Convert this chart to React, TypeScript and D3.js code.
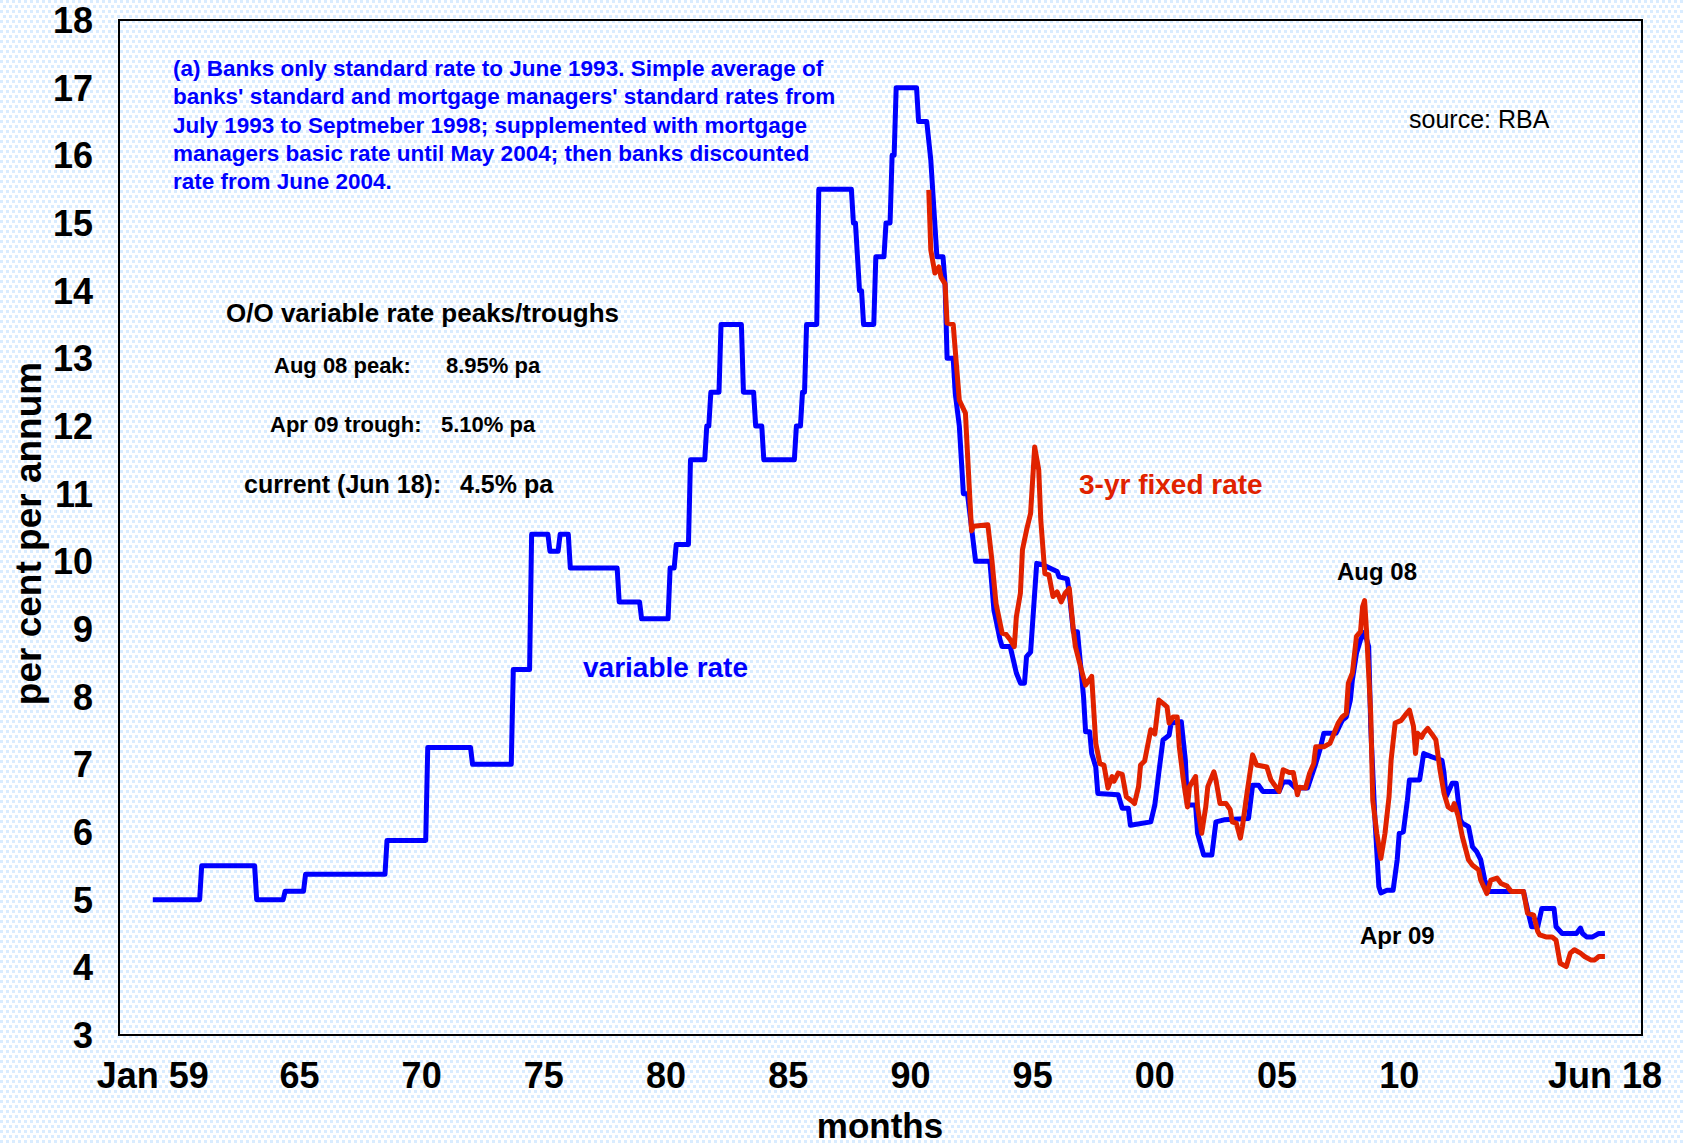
import React from "react";
import * as d3 from "d3";

// ---------- DATA ----------
const variableRate: [string, number][] = [
  ["1959-01", 5.0], ["1960-12", 5.0], ["1961-01", 5.5], ["1963-03", 5.5], ["1963-04", 5.0],
  ["1964-05", 5.0], ["1964-06", 5.125], ["1965-03", 5.125], ["1965-04", 5.375], ["1968-07", 5.375],
  ["1968-08", 5.875], ["1970-03", 5.875], ["1970-04", 7.25], ["1972-01", 7.25], ["1972-02", 7.0],
  ["1973-09", 7.0], ["1973-10", 8.4], ["1974-06", 8.4], ["1974-07", 10.4], ["1975-03", 10.4],
  ["1975-04", 10.15], ["1975-08", 10.15], ["1975-09", 10.4], ["1976-01", 10.4], ["1976-02", 9.9],
  ["1978-01", 9.9], ["1978-02", 9.4], ["1978-12", 9.4], ["1979-01", 9.15], ["1980-02", 9.15],
  ["1980-03", 9.9], ["1980-05", 9.9], ["1980-06", 10.25], ["1980-12", 10.25], ["1981-01", 11.5],
  ["1981-08", 11.5], ["1981-09", 12.0], ["1981-10", 12.0], ["1981-11", 12.5], ["1982-03", 12.5],
  ["1982-04", 13.5], ["1983-02", 13.5], ["1983-03", 12.5], ["1983-08", 12.5], ["1983-09", 12.0],
  ["1983-12", 12.0], ["1984-01", 11.5], ["1985-04", 11.5], ["1985-05", 12.0], ["1985-07", 12.0],
  ["1985-08", 12.5], ["1985-09", 12.5], ["1985-10", 13.5], ["1986-03", 13.5], ["1986-04", 15.5],
  ["1987-08", 15.5], ["1987-09", 15.0], ["1987-10", 15.0], ["1987-12", 14.0], ["1988-01", 14.0],
  ["1988-02", 13.5], ["1988-07", 13.5], ["1988-08", 14.5], ["1988-12", 14.5], ["1989-01", 15.0],
  ["1989-03", 15.0], ["1989-04", 16.0], ["1989-05", 16.0], ["1989-06", 17.0], ["1990-04", 17.0],
  ["1990-05", 16.5], ["1990-09", 16.5], ["1990-11", 15.93], ["1991-02", 14.5], ["1991-05", 14.5],
  ["1991-06", 14.1], ["1991-07", 13.0], ["1991-10", 13.0], ["1991-11", 12.48], ["1992-01", 12.0],
  ["1992-03", 11.0], ["1992-05", 11.0], ["1992-07", 10.5], ["1992-09", 10.0], ["1993-04", 10.0],
  ["1993-06", 9.28], ["1993-09", 8.84], ["1993-10", 8.74], ["1994-02", 8.74], ["1994-05", 8.35],
  ["1994-07", 8.2], ["1994-09", 8.2], ["1994-10", 8.59], ["1994-12", 8.66], ["1995-03", 9.97],
  ["1995-06", 9.95], ["1996-01", 9.85], ["1996-02", 9.77], ["1996-06", 9.74], ["1996-07", 9.53],
  ["1996-09", 8.96], ["1996-11", 8.96], ["1997-02", 8.0], ["1997-03", 7.48], ["1997-05", 7.48],
  ["1997-06", 7.16], ["1997-08", 6.96], ["1997-09", 6.57], ["1998-07", 6.55], ["1998-09", 6.35],
  ["1998-12", 6.35], ["1999-01", 6.1], ["1999-11", 6.15], ["2000-01", 6.4], ["2000-03", 6.89],
  ["2000-05", 7.36], ["2000-08", 7.43], ["2000-09", 7.61], ["2001-02", 7.63], ["2001-04", 7.06],
  ["2001-05", 6.4], ["2001-09", 6.4], ["2001-10", 5.98], ["2002-01", 5.66], ["2002-05", 5.66],
  ["2002-07", 6.15], ["2002-11", 6.18], ["2003-11", 6.2], ["2004-01", 6.69], ["2004-04", 6.69],
  ["2004-06", 6.6], ["2005-02", 6.6], ["2005-04", 6.74], ["2005-07", 6.74], ["2005-10", 6.65],
  ["2006-04", 6.65], ["2006-07", 6.92], ["2006-08", 7.01], ["2006-10", 7.21], ["2006-12", 7.46],
  ["2007-06", 7.46], ["2007-09", 7.65], ["2007-11", 7.7], ["2008-01", 7.95], ["2008-02", 8.25],
  ["2008-04", 8.64], ["2008-06", 8.84], ["2008-08", 8.95], ["2008-10", 8.74], ["2008-11", 7.56],
  ["2009-01", 6.23], ["2009-03", 5.19], ["2009-04", 5.1], ["2009-07", 5.14], ["2009-10", 5.14],
  ["2009-12", 5.59], ["2010-01", 5.98], ["2010-03", 6.0], ["2010-05", 6.47], ["2010-06", 6.77],
  ["2010-11", 6.77], ["2011-01", 7.16], ["2011-05", 7.11], ["2011-10", 7.06], ["2011-11", 6.87],
  ["2011-12", 6.52], ["2012-03", 6.72], ["2012-05", 6.72], ["2012-07", 6.18], ["2012-08", 6.13],
  ["2012-11", 6.08], ["2013-01", 5.78], ["2013-03", 5.71], ["2013-05", 5.59], ["2013-07", 5.29],
  ["2013-09", 5.12], ["2015-02", 5.12], ["2015-04", 4.85], ["2015-06", 4.6], ["2015-09", 4.6],
  ["2015-11", 4.87], ["2016-05", 4.87], ["2016-06", 4.6], ["2016-09", 4.5], ["2017-04", 4.5],
  ["2017-06", 4.58], ["2017-07", 4.5], ["2017-09", 4.45], ["2017-12", 4.45], ["2018-03", 4.5],
  ["2018-06", 4.5],
];

const fixedRate: [string, number][] = [
  ["1990-10", 15.49], ["1990-11", 14.6], ["1991-01", 14.26], ["1991-03", 14.35], ["1991-04", 14.2],
  ["1991-06", 14.1], ["1991-07", 13.52], ["1991-10", 13.5], ["1991-11", 13.12], ["1992-01", 12.38],
  ["1992-04", 12.19], ["1992-05", 11.6], ["1992-07", 10.45], ["1992-08", 10.52], ["1993-03", 10.54],
  ["1993-05", 10.02], ["1993-07", 9.38], ["1993-10", 8.94], ["1993-12", 8.92], ["1994-02", 8.84],
  ["1994-04", 8.74], ["1994-05", 9.18], ["1994-07", 9.53], ["1994-08", 10.17], ["1994-10", 10.46],
  ["1994-12", 10.71], ["1995-02", 11.69], ["1995-04", 11.35], ["1995-05", 10.61], ["1995-07", 9.82],
  ["1995-09", 9.8], ["1995-11", 9.48], ["1996-01", 9.55], ["1996-03", 9.4], ["1996-05", 9.53],
  ["1996-07", 9.6], ["1996-09", 8.98], ["1996-10", 8.74], ["1997-01", 8.39], ["1997-03", 8.17],
  ["1997-06", 8.3], ["1997-08", 7.31], ["1997-10", 7.01], ["1997-12", 6.99], ["1998-02", 6.65],
  ["1998-04", 6.82], ["1998-05", 6.75], ["1998-07", 6.87], ["1998-09", 6.85], ["1998-11", 6.52],
  ["1999-02", 6.45], ["1999-03", 6.42], ["1999-05", 6.67], ["1999-06", 6.99], ["1999-08", 7.05],
  ["1999-11", 7.51], ["2000-01", 7.45], ["2000-03", 7.95], ["2000-05", 7.9], ["2000-07", 7.85],
  ["2000-08", 7.61], ["2000-10", 7.7], ["2000-12", 7.7], ["2001-01", 7.26], ["2001-03", 6.77],
  ["2001-05", 6.37], ["2001-06", 6.67], ["2001-09", 6.82], ["2001-10", 6.37], ["2001-12", 5.98],
  ["2002-02", 6.37], ["2002-03", 6.67], ["2002-06", 6.89], ["2002-07", 6.77], ["2002-09", 6.42],
  ["2002-12", 6.42], ["2003-02", 6.33], ["2003-03", 6.15], ["2003-05", 6.13], ["2003-07", 5.91],
  ["2003-08", 6.08], ["2003-10", 6.52], ["2004-01", 7.14], ["2004-03", 6.99], ["2004-08", 6.96],
  ["2004-10", 6.77], ["2005-02", 6.6], ["2005-04", 6.92], ["2005-07", 6.88], ["2005-09", 6.88],
  ["2005-11", 6.55], ["2005-12", 6.66], ["2006-03", 6.65], ["2006-05", 6.87], ["2006-07", 7.01],
  ["2006-08", 7.26], ["2006-12", 7.26], ["2007-03", 7.31], ["2007-05", 7.46], ["2007-07", 7.61],
  ["2007-09", 7.7], ["2007-11", 7.75], ["2007-12", 8.2], ["2008-02", 8.35], ["2008-04", 8.89],
  ["2008-06", 8.96], ["2008-07", 9.33], ["2008-08", 9.42], ["2008-09", 8.94], ["2008-11", 7.75],
  ["2008-12", 6.47], ["2009-02", 5.98], ["2009-04", 5.61], ["2009-06", 5.98], ["2009-08", 6.52],
  ["2009-09", 7.06], ["2009-11", 7.61], ["2010-02", 7.65], ["2010-04", 7.73], ["2010-06", 7.8],
  ["2010-08", 7.56], ["2010-09", 7.16], ["2010-10", 7.46], ["2010-12", 7.4], ["2011-01", 7.46],
  ["2011-03", 7.53], ["2011-05", 7.45], ["2011-07", 7.36], ["2011-09", 6.92], ["2011-11", 6.57],
  ["2012-01", 6.37], ["2012-03", 6.33], ["2012-04", 6.42], ["2012-06", 6.23], ["2012-08", 5.93],
  ["2012-11", 5.59], ["2013-01", 5.51], ["2013-04", 5.44], ["2013-05", 5.29], ["2013-08", 5.09],
  ["2013-10", 5.29], ["2014-01", 5.32], ["2014-03", 5.24], ["2014-06", 5.2], ["2014-08", 5.12],
  ["2015-02", 5.12], ["2015-04", 4.8], ["2015-07", 4.77], ["2015-09", 4.53], ["2015-10", 4.48],
  ["2016-01", 4.45], ["2016-04", 4.45], ["2016-06", 4.4], ["2016-08", 4.06], ["2016-11", 4.01],
  ["2017-01", 4.21], ["2017-03", 4.26], ["2017-06", 4.21], ["2017-08", 4.16], ["2017-11", 4.11],
  ["2018-01", 4.11], ["2018-03", 4.16], ["2018-06", 4.16],
];

const xTickDates = ["1959-01", "1965-01", "1970-01", "1975-01", "1980-01", "1985-01", "1990-01",
  "1995-01", "2000-01", "2005-01", "2010-01", "2018-06"];
const xTickLabels = ["Jan 59", "65", "70", "75", "80", "85", "90", "95", "00", "05", "10", "Jun 18"];
const yTicks = [3, 4, 5, 6, 7, 8, 9, 10, 11, 12, 13, 14, 15, 16, 17, 18];

const noteLines = [
  "(a) Banks only standard rate to June 1993. Simple average of",
  "banks' standard and mortgage managers' standard rates from",
  "July 1993 to Septmeber 1998; supplemented with mortgage",
  "managers basic rate until May 2004; then banks discounted",
  "rate from June 2004.",
];

// ---------- LAYOUT ----------
const W = 1683;
const H = 1143;
const plot = { left: 119, top: 20, right: 1642, bottom: 1035 };
const FONT = "'Liberation Sans', Arial, Helvetica, sans-serif";
const BLUE = "#0000ff";
const RED = "#e02200";

// month index since Jan 1959
const monthIndex = (s: string) => {
  const [y, m] = s.split("-").map(Number);
  return (y - 1959) * 12 + (m - 1);
};

export default function App() {
  const x = d3.scaleLinear().domain([-16.6, 731.2]).range([plot.left, plot.right]);
  const y = d3.scaleLinear().domain([3, 18]).range([plot.bottom, plot.top]);

  const line = d3
    .line<[string, number]>()
    .x((d) => x(monthIndex(d[0])))
    .y((d) => y(d[1]));

  return (
    <svg
      width={W}
      height={H}
      viewBox={`0 0 ${W} ${H}`}
      style={{ position: "absolute", left: 0, top: 0, display: "block" }}
      fontFamily={FONT}
    >
      <defs>
        <pattern id="bgdots" width={6} height={10} patternUnits="userSpaceOnUse">
          <rect width={6} height={10} fill="#ffffff" />
          <rect x={0} y={0} width={3} height={3} fill="#d9ecff" />
          <rect x={3} y={5} width={3} height={3} fill="#d9ecff" />
        </pattern>
      </defs>
      <rect x={0} y={0} width={W} height={H} fill="url(#bgdots)" />

      {/* plot frame */}
      <rect
        x={plot.left}
        y={plot.top}
        width={plot.right - plot.left}
        height={plot.bottom - plot.top}
        fill="none"
        stroke="#000"
        strokeWidth={2}
      />

      {/* y tick labels */}
      {yTicks.map((t) => (
        <text
          key={t}
          x={93}
          y={y(t)}
          dy="0.36em"
          textAnchor="end"
          fontSize={36}
          fontWeight="bold"
          fill="#000"
        >
          {t}
        </text>
      ))}

      {/* x tick labels */}
      {xTickDates.map((d, i) => (
        <text
          key={d}
          x={x(monthIndex(d))}
          y={1088}
          textAnchor="middle"
          fontSize={36}
          fontWeight="bold"
          fill="#000"
        >
          {xTickLabels[i]}
        </text>
      ))}

      {/* axis titles */}
      <text x={880} y={1138} textAnchor="middle" fontSize={35} fontWeight="bold" fill="#000">
        months
      </text>
      <text
        transform={`translate(41,${(plot.top + plot.bottom) / 2 + 6}) rotate(-90)`}
        textAnchor="middle"
        fontSize={37}
        fontWeight="bold"
        fill="#000"
      >
        per cent per annum
      </text>

      {/* series */}
      <path
        d={line(variableRate) || ""}
        fill="none"
        stroke={BLUE}
        strokeWidth={5}
        strokeLinejoin="round"
      />
      <path
        d={line(fixedRate) || ""}
        fill="none"
        stroke={RED}
        strokeWidth={5}
        strokeLinejoin="round"
      />

      {/* notes */}
      {noteLines.map((l, i) => (
        <text key={i} x={173} y={76 + i * 28.3} fontSize={22.5} fontWeight="bold" fill={BLUE}>
          {l}
        </text>
      ))}
      <text x={1409} y={128} fontSize={25} fill="#000">
        source: RBA
      </text>

      <text x={226} y={322} fontSize={26} fontWeight="bold" fill="#000">
        O/O variable rate peaks/troughs
      </text>
      <text x={274} y={373} fontSize={22} fontWeight="bold" fill="#000">
        Aug 08 peak:
      </text>
      <text x={446} y={373} fontSize={22} fontWeight="bold" fill="#000">
        8.95% pa
      </text>
      <text x={270} y={432} fontSize={22} fontWeight="bold" fill="#000">
        Apr 09 trough:
      </text>
      <text x={441} y={432} fontSize={22} fontWeight="bold" fill="#000">
        5.10% pa
      </text>
      <text x={244} y={493} fontSize={25} fontWeight="bold" fill="#000">
        current (Jun 18):
      </text>
      <text x={460} y={493} fontSize={25} fontWeight="bold" fill="#000">
        4.5% pa
      </text>

      <text x={583} y={677} fontSize={28} fontWeight="bold" fill={BLUE}>
        variable rate
      </text>
      <text x={1079} y={494} fontSize={28} fontWeight="bold" fill={RED}>
        3-yr fixed rate
      </text>
      <text x={1337} y={580} fontSize={24} fontWeight="bold" fill="#000">
        Aug 08
      </text>
      <text x={1360} y={944} fontSize={24} fontWeight="bold" fill="#000">
        Apr 09
      </text>
    </svg>
  );
}
